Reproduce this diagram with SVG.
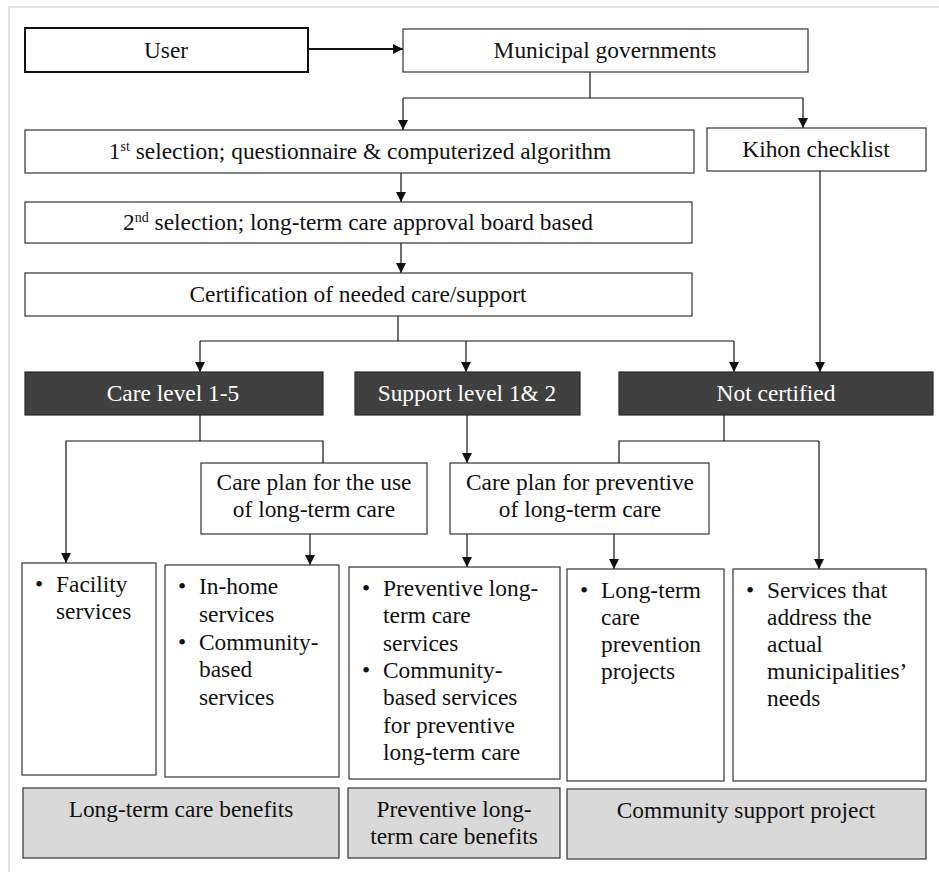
<svg xmlns="http://www.w3.org/2000/svg" width="939" height="872" viewBox="0 0 939 872">
  <style>
    text { font-family: "Liberation Serif", "Times New Roman", serif; font-size: 23.4px; fill: #111; }
    .c { text-anchor: middle; }
    .w { fill: #ffffff; }
    .sup { font-size: 14px; }
    .box { fill: #ffffff; stroke: #333333; stroke-width: 1.2; }
    .dark { fill: #404040; stroke: #2a2a2a; stroke-width: 1.2; }
    .grey { fill: #d9d9d9; stroke: #333333; stroke-width: 1.2; }
    .ln { fill: none; stroke: #111111; stroke-width: 1.2; }
    .arr { fill: none; stroke: #111111; stroke-width: 1.2; marker-end: url(#ah); }
  </style>
  <defs>
    <marker id="ah" markerUnits="userSpaceOnUse" markerWidth="11" markerHeight="11" refX="10" refY="5" orient="auto">
      <path d="M0,0 L10,5 L0,10 z" fill="#111111"/>
    </marker>
  </defs>

  <rect x="0" y="0" width="939" height="872" fill="#ffffff"/>
  <!-- page frame -->
  <rect x="9" y="7" width="940" height="880" fill="none" stroke="#e2e2e2" stroke-width="2"/>

  <!-- connectors -->
  <g id="connectors">
    <line class="arr" x1="308" y1="49" x2="403" y2="49" style="stroke-width:2"/>
    <polyline class="ln" points="590,72 590,98"/>
    <polyline class="arr" points="403,98 803,98 803,128"/>
    <line class="arr" x1="403" y1="98" x2="403" y2="130"/>
    <line class="arr" x1="401" y1="173" x2="401" y2="202"/>
    <line class="arr" x1="401" y1="243" x2="401" y2="273"/>
    <line class="ln" x1="398" y1="316" x2="398" y2="341"/>
    <polyline class="arr" points="200,341 200,372"/>
    <polyline class="ln" points="200,341 734,341"/>
    <line class="arr" x1="466" y1="341" x2="466" y2="372"/>
    <line class="arr" x1="734" y1="341" x2="734" y2="372"/>
    <line class="arr" x1="820" y1="171" x2="820" y2="372"/>
    <!-- from care level 1-5 -->
    <line class="ln" x1="200" y1="415" x2="200" y2="441"/>
    <polyline class="arr" points="323,463 323,441 66,441 66,563"/>
    <line class="arr" x1="310" y1="534" x2="310" y2="565"/>
    <!-- from support level -->
    <line class="arr" x1="467" y1="415" x2="467" y2="463"/>
    <line class="arr" x1="467" y1="534" x2="467" y2="567"/>
    <line class="arr" x1="614" y1="534" x2="614" y2="569"/>
    <!-- from not certified -->
    <line class="ln" x1="724" y1="415" x2="724" y2="441"/>
    <polyline class="ln" points="619,463 619,441 819,441"/>
    <line class="arr" x1="819" y1="441" x2="819" y2="569"/>
  </g>

  <g id="user">
    <rect x="25" y="28" width="283" height="44" fill="#ffffff" stroke="#111111" stroke-width="2"/>
    <text class="c" x="166" y="58">User</text>
  </g>

  <g id="municipal">
    <rect class="box" x="403" y="29" width="405" height="43"/>
    <text class="c" x="605" y="58">Municipal governments</text>
  </g>

  <g id="selection1">
    <rect class="box" x="25" y="130" width="669" height="43"/>
    <text class="c" x="360" y="159">1<tspan class="sup" dy="-8">st</tspan><tspan dy="8"> selection; questionnaire &amp; computerized algorithm</tspan></text>
  </g>

  <g id="kihon">
    <rect class="box" x="707" y="128" width="219" height="43"/>
    <text class="c" x="816" y="157">Kihon checklist</text>
  </g>

  <g id="selection2">
    <rect class="box" x="25" y="202" width="667" height="41"/>
    <text class="c" x="358" y="230">2<tspan class="sup" dy="-8">nd</tspan><tspan dy="8"> selection; long-term care approval board based</tspan></text>
  </g>

  <g id="certification">
    <rect class="box" x="25" y="273" width="667" height="43"/>
    <text class="c" x="358" y="302">Certification of needed care/support</text>
  </g>

  <g id="care-level">
    <rect class="dark" x="25" y="372" width="298" height="43"/>
    <text class="c w" x="173" y="401">Care level 1-5</text>
  </g>

  <g id="support-level">
    <rect class="dark" x="355" y="372" width="225" height="43"/>
    <text class="c w" x="467" y="401">Support level 1&amp; 2</text>
  </g>

  <g id="not-certified">
    <rect class="dark" x="619" y="372" width="314" height="43"/>
    <text class="c w" x="776" y="401">Not certified</text>
  </g>

  <g id="care-plan">
    <rect class="box" x="201" y="463" width="226" height="71"/>
    <text class="c" x="314" y="490">Care plan for the use</text>
    <text class="c" x="314" y="517">of long-term care</text>
  </g>

  <g id="care-plan-preventive">
    <rect class="box" x="450" y="463" width="259" height="71"/>
    <text class="c" x="580" y="490">Care plan for preventive</text>
    <text class="c" x="580" y="517">of long-term care</text>
  </g>

  <g id="facility">
    <rect class="box" x="22" y="563" width="134" height="212"/>
    <text x="35" y="592">•</text>
    <text x="56" y="592">Facility</text>
    <text x="56" y="619">services</text>
  </g>

  <g id="in-home">
    <rect class="box" x="165" y="565" width="174" height="212"/>
    <text x="178" y="594">•</text>
    <text x="199" y="594">In-home</text>
    <text x="199" y="622">services</text>
    <text x="178" y="650">•</text>
    <text x="199" y="650">Community-</text>
    <text x="199" y="677">based</text>
    <text x="199" y="705">services</text>
  </g>

  <g id="preventive-services">
    <rect class="box" x="349" y="567" width="211" height="212"/>
    <text x="362" y="596">•</text>
    <text x="383" y="596">Preventive long-</text>
    <text x="383" y="623">term care</text>
    <text x="383" y="651">services</text>
    <text x="362" y="678">•</text>
    <text x="383" y="678">Community-</text>
    <text x="383" y="705">based services</text>
    <text x="383" y="733">for preventive</text>
    <text x="383" y="760">long-term care</text>
  </g>

  <g id="prevention-projects">
    <rect class="box" x="567" y="569" width="157" height="212"/>
    <text x="580" y="598">•</text>
    <text x="601" y="598">Long-term</text>
    <text x="601" y="625">care</text>
    <text x="601" y="652">prevention</text>
    <text x="601" y="679">projects</text>
  </g>

  <g id="municipal-needs">
    <rect class="box" x="733" y="569" width="193" height="212"/>
    <text x="746" y="598">•</text>
    <text x="767" y="598">Services that</text>
    <text x="767" y="625">address the</text>
    <text x="767" y="652">actual</text>
    <text x="767" y="679">municipalities’</text>
    <text x="767" y="706">needs</text>
  </g>

  <g id="ltc-benefits">
    <rect class="grey" x="23" y="788" width="316" height="70"/>
    <text class="c" x="181" y="817">Long-term care benefits</text>
  </g>

  <g id="preventive-benefits">
    <rect class="grey" x="348" y="788" width="212" height="70"/>
    <text class="c" x="454" y="817">Preventive long-</text>
    <text class="c" x="454" y="844">term care benefits</text>
  </g>

  <g id="community-support">
    <rect class="grey" x="567" y="789" width="359" height="70"/>
    <text class="c" x="746" y="818">Community support project</text>
  </g>
</svg>
